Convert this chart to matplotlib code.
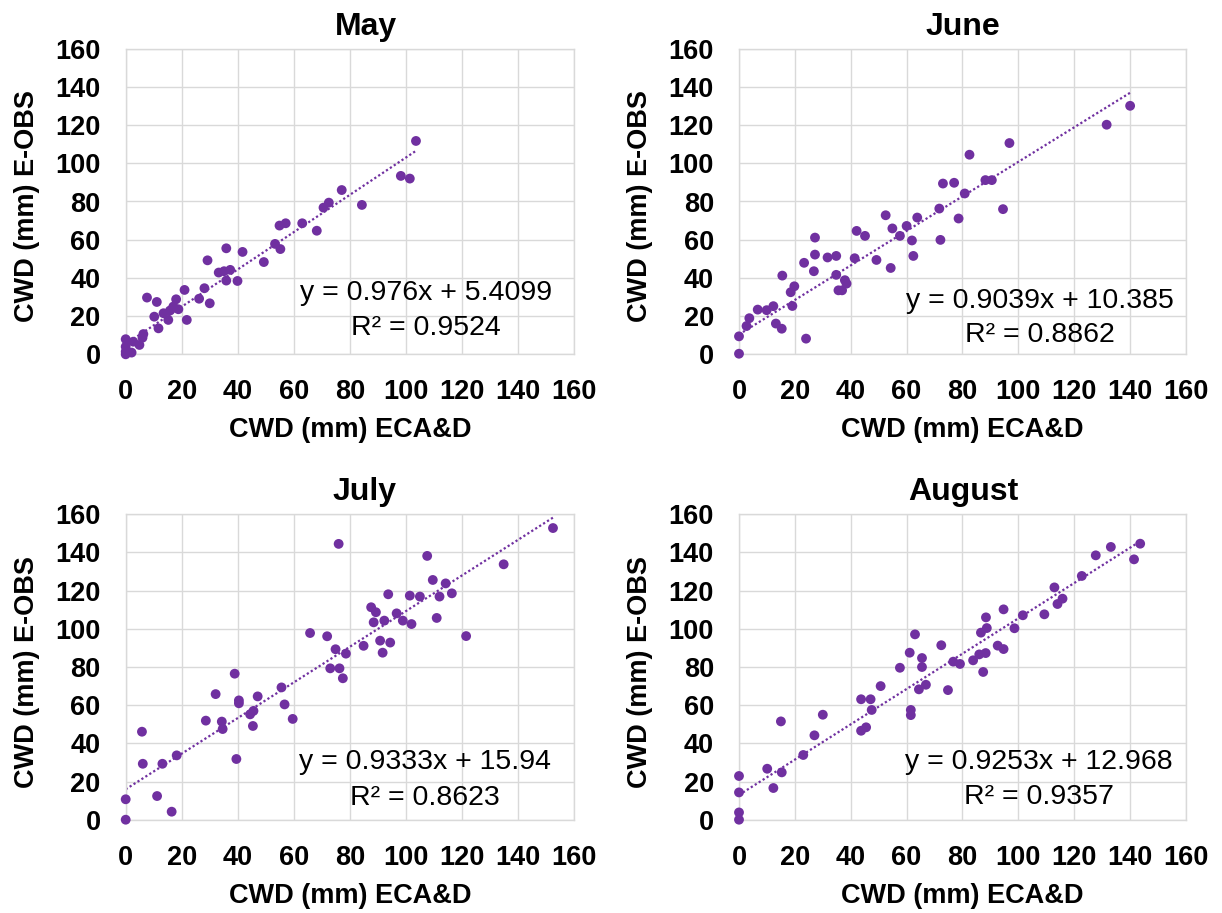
import matplotlib
matplotlib.use('Agg')
import matplotlib.pyplot as plt
import numpy as np

plt.rcParams['font.family'] = ['Liberation Sans', 'DejaVu Sans']

##### Data: CWD (mm), ECA&D (x) vs E-OBS (y)
may_x = [103.6, 98.2, 101.4, 84.3, 77.1, 72.5, 70.6, 68.2, 63.0, 57.1, 54.9, 53.3, 55.2, 49.3, 41.7, 39.9,
         35.9, 35.9, 37.3, 35.1, 33.2, 29.2, 28.1, 26.2, 30.0, 21.0, 21.8, 18.0, 18.8, 17.0, 15.8, 15.2,
         13.5, 10.2, 11.1, 7.6, 11.7, 6.3, 6.0, 4.9, 2.7, 0.0, 0.0, 2.1, 0.0, 0.0]
may_y = [111.7, 93.4, 92.0, 78.2, 86.0, 79.4, 76.8, 64.7, 68.6, 68.6, 67.4, 57.8, 55.1, 48.3, 53.6, 38.4,
         55.5, 38.6, 44.2, 43.5, 42.8, 49.2, 34.6, 29.1, 26.7, 33.7, 18.0, 28.8, 23.6, 25.0, 22.9, 18.0,
         21.5, 19.7, 27.4, 29.7, 13.6, 10.6, 8.7, 4.9, 6.6, 7.9, 4.0, 0.9, 0.0, 1.4]

june_x = [140.0, 131.6, 96.8, 82.5, 73.0, 77.0, 88.2, 90.5, 80.8, 94.5, 71.7, 78.6, 72.1, 63.8, 60.0, 61.9,
          62.4, 57.6, 54.9, 52.5, 54.3, 49.2, 42.1, 45.1, 41.4, 38.5, 37.9, 36.9, 35.6, 34.8, 34.8, 31.7,
          27.2, 27.2, 26.8, 23.3, 24.0, 19.8, 18.5, 19.1, 15.5, 15.3, 13.2, 12.3, 9.9, 6.7, 3.7, 2.7, 0.0, 0.0]
june_y = [130.1, 120.2, 110.6, 104.5, 89.4, 89.8, 91.2, 91.2, 84.2, 76.0, 76.3, 71.1, 59.9, 71.6, 67.2, 59.6,
          51.5, 62.0, 65.9, 72.8, 45.2, 49.4, 64.6, 62.0, 50.3, 37.0, 38.8, 33.5, 33.5, 41.6, 51.5, 50.7,
          61.1, 52.2, 43.5, 47.9, 8.2, 35.6, 32.5, 25.3, 41.2, 13.4, 16.1, 25.2, 23.1, 23.4, 18.9, 14.8, 9.4, 0.3]

july_x = [152.5, 134.9, 76.0, 107.6, 109.6, 114.2, 116.4, 112.0, 105.0, 101.4, 93.7, 87.6, 89.3, 96.7, 98.9,
          102.0, 92.3, 88.5, 111.0, 121.5, 90.8, 94.4, 91.7, 84.9, 78.6, 74.9, 71.9, 65.8, 73.0, 76.3, 77.5,
          55.6, 56.7, 59.6, 47.1, 45.6, 44.4, 45.4, 38.9, 40.4, 40.4, 34.3, 34.6, 28.6, 32.1, 39.5, 18.2,
          13.1, 6.1, 5.8, 11.2, 16.4, 0.0, 0.0]
july_y = [152.8, 133.8, 144.5, 138.2, 125.6, 123.8, 118.6, 116.9, 116.9, 117.4, 118.1, 111.3, 108.7, 108.1, 104.3,
          102.5, 104.3, 103.4, 105.7, 96.2, 93.8, 92.8, 87.5, 91.1, 87.0, 89.3, 96.1, 97.8, 79.3, 79.3, 74.1,
          69.3, 60.4, 52.8, 64.6, 57.0, 55.2, 49.1, 76.5, 62.5, 61.0, 51.4, 47.5, 51.9, 65.8, 31.8, 33.7,
          29.3, 29.3, 46.1, 12.4, 4.2, 10.7, 0.0]

aug_x = [143.6, 133.1, 127.7, 141.4, 122.7, 112.9, 115.8, 114.0, 109.3, 101.6, 94.7, 88.4, 88.7, 86.6, 98.6,
         92.6, 94.7, 88.3, 86.0, 83.8, 87.4, 79.1, 76.7, 72.4, 63.0, 61.1, 65.5, 65.5, 57.6, 66.9, 64.4,
         74.8, 50.7, 43.7, 47.1, 47.5, 61.5, 61.5, 45.5, 43.7, 30.0, 27.0, 23.0, 15.0, 15.3, 10.1, 12.3,
         0.0, 0.0, 0.0, 0.0]
aug_y = [144.6, 142.9, 138.5, 136.4, 127.7, 121.7, 115.8, 113.0, 107.6, 107.1, 110.2, 106.0, 100.4, 98.0, 100.3,
         91.2, 89.4, 87.3, 86.6, 83.5, 77.4, 81.6, 82.8, 91.4, 97.1, 87.5, 84.7, 80.0, 79.6, 70.7, 68.3,
         67.9, 70.0, 63.1, 63.1, 57.5, 57.5, 54.8, 48.4, 46.6, 55.0, 44.2, 33.9, 51.5, 24.8, 26.7, 16.6,
         22.9, 14.3, 3.8, 0.0]

months = ['May', 'June', 'July', 'August']
all_x = [may_x, june_x, july_x, aug_x]
all_y = [may_y, june_y, july_y, aug_y]
# Excel trendline labels as printed on the chart
slopes = [0.976, 0.9039, 0.9333, 0.9253]
intercepts = [5.4099, 10.385, 15.94, 12.968]
eq_text = ['y = 0.976x + 5.4099', 'y = 0.9039x + 10.385', 'y = 0.9333x + 15.94', 'y = 0.9253x + 12.968']
r2_text = ['R² = 0.9524', 'R² = 0.8862', 'R² = 0.8623', 'R² = 0.9357']
ticks = [0, 20, 40, 60, 80, 100, 120, 140, 160]

purple = '#7030A0'
grid_gray = '#d9d9d9'

W, H = 1222, 913
fig = plt.figure(figsize=(W / 100, H / 100), dpi=100)

# plot area boxes in pixels: left, top, right, bottom
boxes = [(125.7, 48.7, 574.0, 354.3), (739.0, 48.7, 1186.0, 354.3),
         (125.7, 514.3, 574.0, 819.7), (739.0, 514.3, 1186.0, 819.7)]
title_x = [366, 963, 365, 963]
title_y = [27, 27, 492, 492]
eq_pos = [(426, 293, 328), (1040, 301, 335), (425, 762, 798), (1039, 762, 797)]

for i in range(4):
    l, t, r, b = boxes[i]
    ax = fig.add_axes([l / W, 1 - b / H, (r - l) / W, (b - t) / H])
    x = np.array(all_x[i])
    y = np.array(all_y[i])

    ax.set_xlim(0, 160)
    ax.set_ylim(0, 160)
    ax.set_xticks(ticks)
    ax.set_yticks(ticks)
    ax.grid(True, color=grid_gray, linewidth=1.0)
    ax.set_axisbelow(True)
    for s in ax.spines.values():
        s.set_color(grid_gray)
        s.set_linewidth(1.0)
    ax.tick_params(length=0, labelsize=19.5, pad=18)
    for lab in ax.get_xticklabels() + ax.get_yticklabels():
        lab.set_fontweight('bold')

    # dotted linear trendline over data range
    xx = np.array([x.min(), x.max()])
    ax.plot(xx, slopes[i] * xx + intercepts[i], linestyle=(0, (1, 1.1)), color=purple,
            linewidth=1.6, zorder=2)
    ax.scatter(x, y, s=50, color=purple, edgecolors='none', zorder=3, clip_on=False)

    ax.set_xlabel('CWD (mm) ECA&D', fontsize=19.5, fontweight='bold')
    ax.set_ylabel('CWD (mm) E-OBS', fontsize=19.5, fontweight='bold')
    # label centres: 76 px below plot, 99 px left of plot
    ax.xaxis.set_label_coords(0.5, -76.0 / (b - t), transform=ax.transAxes)
    ax.yaxis.set_label_coords(-99.0 / (r - l), (b - t - 10.0) / 2 / (b - t), transform=ax.transAxes)
    ax.xaxis.label.set_verticalalignment('center')
    ax.yaxis.label.set_verticalalignment('center')

    ex, ey1, ey2 = eq_pos[i]
    fig.text(ex / W, 1 - ey1 / H, eq_text[i], fontsize=20.5, ha='center', va='center')
    fig.text(ex / W, 1 - ey2 / H, r2_text[i], fontsize=20.5, ha='center', va='center')
    fig.text(title_x[i] / W, 1 - title_y[i] / H, months[i], fontsize=23, fontweight='bold',
             ha='center', va='center')

plt.savefig('out.png', dpi=100)
